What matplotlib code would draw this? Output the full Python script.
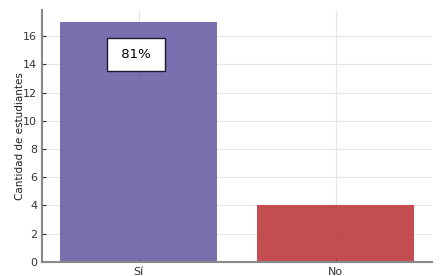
import matplotlib
matplotlib.use("Agg")
import matplotlib.pyplot as plt

# data
categories = ["Sí", "No"]
counts = [17, 4]
pct_label = " 81% "
pct_pos = (-0.015, 14.7)

bar_colors = ["#6c5fa7", "#be3a3f"]

fig = plt.figure(figsize=(4.44, 2.76), dpi=100)
ax = fig.add_axes([0.095, 0.051, 0.878, 0.913])

ax.set_axisbelow(True)
ax.grid(True, color="#e6e6e6", linewidth=0.9)
ax.bar(categories, counts, width=0.8, color=bar_colors, alpha=0.9)

# percentage box on the first bar
ax.text(*pct_pos, pct_label, ha="center", va="center", fontsize=9.5,
        bbox=dict(boxstyle="square,pad=0.75", facecolor="white",
                  edgecolor="#1a1a2e", linewidth=1.0))

ax.set_ylabel("Cantidad de estudiantes", fontsize=7.5, color="#222222",
              labelpad=-1)
ax.set_yticks(range(0, 17, 2))
ax.tick_params(direction="in", length=3, labelsize=8, colors="#333333",
               width=0.8)

for side in ("top", "right"):
    ax.spines[side].set_visible(False)
for side in ("left", "bottom"):
    ax.spines[side].set_color("#888888")
    ax.spines[side].set_linewidth(1.5)

fig.savefig("out.png", dpi=100)
